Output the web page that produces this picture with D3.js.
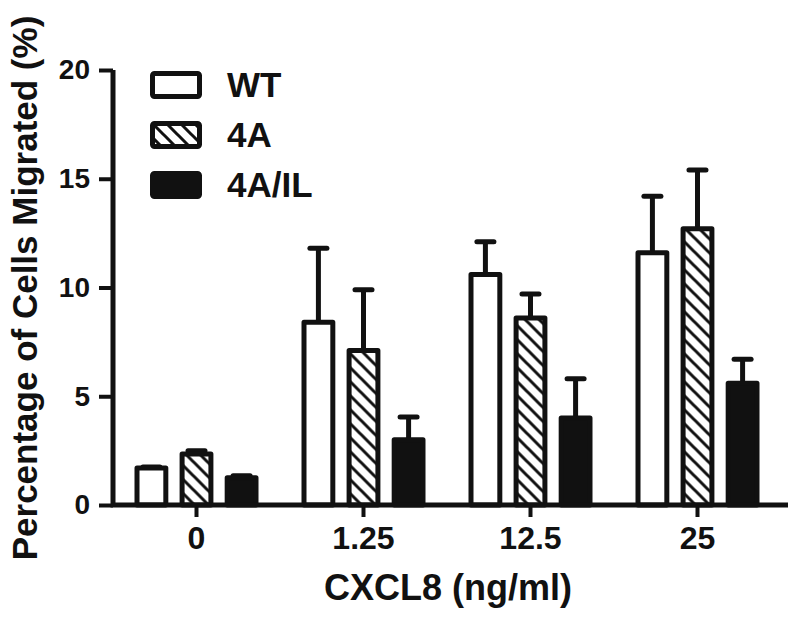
<!DOCTYPE html>
<html>
<head>
<meta charset="utf-8">
<script src="https://cdn.jsdelivr.net/npm/d3@7"></script>
<style>
  body { margin: 0; background: #fff; }
  text { font-family: "Liberation Sans", Arial, sans-serif; font-weight: bold; fill: #111; }
</style>
</head>
<body>
<div id="viz"></div>
<script>
var doses = ["0", "1.25", "12.5", "25"];
var groups = ["WT", "4A", "4A/IL"];
var wtMean = [1.7, 8.4, 10.6, 11.6];
var wtErr = [0.05, 3.4, 1.5, 2.6];
var fourAMean = [2.35, 7.1, 8.6, 12.7];
var fourAErr = [0.15, 2.8, 1.1, 2.7];
var ilMean = [1.25, 3.0, 4.0, 5.6];
var ilErr = [0.1, 1.05, 1.8, 1.1];
var yTicks = [0, 5, 10, 15, 20];

var width = 800;
var height = 617;
var ink = "#111";

var svg = d3.select("#viz")
    .append("svg")
    .attr("width", width)
    .attr("height", height);

svg.append("rect")
    .attr("width", width)
    .attr("height", height)
    .attr("fill", "#fff");

// diagonal hatch for 4A
var defs = svg.append("defs");
var pat = defs.append("pattern")
    .attr("id", "hatch")
    .attr("patternUnits", "userSpaceOnUse")
    .attr("width", 14)
    .attr("height", 14);
pat.append("rect").attr("width", 14).attr("height", 14).attr("fill", "#fff");
pat.append("path")
    .attr("d", "M-2,-2 L16,16 M-2,12 L2,16 M12,-2 L16,2")
    .attr("stroke", ink)
    .attr("stroke-width", 3);

var fills = { "WT": "#fff", "4A": "url(#hatch)", "4A/IL": ink };

var rows = [];
doses.forEach(function(d, i) {
  rows.push({ dose: d, group: "WT", mean: wtMean[i], err: wtErr[i] });
  rows.push({ dose: d, group: "4A", mean: fourAMean[i], err: fourAErr[i] });
  rows.push({ dose: d, group: "4A/IL", mean: ilMean[i], err: ilErr[i] });
});

var x = d3.scaleBand()
    .domain(doses)
    .range([113, 781]);

var x1 = d3.scaleBand()
    .domain(groups)
    .range([-62, 62])
    .paddingInner(0.25);

var y = d3.scaleLinear()
    .domain([0, 20])
    .range([505, 70]);

var bar = svg.selectAll("g.bar")
    .data(rows)
    .enter()
    .append("g")
    .attr("class", "bar")
    .attr("transform", function(d) { return "translate(" + (x(d.dose) + x.bandwidth() / 2 + x1(d.group)) + ",0)"; });

// error bars (upper only)
bar.append("line")
    .attr("x1", x1.bandwidth() / 2)
    .attr("x2", x1.bandwidth() / 2)
    .attr("y1", function(d) { return y(d.mean); })
    .attr("y2", function(d) { return y(d.mean + d.err); })
    .attr("stroke", ink)
    .attr("stroke-width", 5);

bar.append("line")
    .attr("x1", x1.bandwidth() / 2 - 8.5)
    .attr("x2", x1.bandwidth() / 2 + 8.5)
    .attr("y1", function(d) { return y(d.mean + d.err); })
    .attr("y2", function(d) { return y(d.mean + d.err); })
    .attr("stroke", ink)
    .attr("stroke-width", 5)
    .attr("stroke-linecap", "round");

bar.append("rect")
    .attr("x", 2.5)
    .attr("width", x1.bandwidth() - 5)
    .attr("y", function(d) { return y(d.mean); })
    .attr("height", function(d) { return y(0) - y(d.mean); })
    .attr("fill", function(d) { return fills[d.group]; })
    .attr("stroke", ink)
    .attr("stroke-width", 5)
    .attr("stroke-linejoin", "round");

// axes
var yAxis = svg.append("g")
    .attr("transform", "translate(113,0)")
    .call(d3.axisLeft(y).tickValues(yTicks).tickSize(14).tickSizeOuter(0).tickPadding(9));
yAxis.select(".domain").remove();
yAxis.selectAll(".tick line").attr("stroke", ink).attr("stroke-width", 4);
yAxis.selectAll(".tick text").style("font-size", "28px").attr("fill", ink);

var xAxis = svg.append("g")
    .attr("transform", "translate(0,505)")
    .call(d3.axisBottom(x).tickSize(12).tickSizeOuter(0).tickPadding(9));
xAxis.select(".domain").remove();
xAxis.selectAll(".tick line").attr("stroke", ink).attr("stroke-width", 4);
xAxis.selectAll(".tick text").style("font-size", "32px").attr("fill", ink);

svg.append("path")
    .attr("d", "M113,70 L113,505 L788,505")
    .attr("fill", "none")
    .attr("stroke", ink)
    .attr("stroke-width", 5)
    .attr("stroke-linejoin", "miter");

// axis titles
svg.append("text")
    .attr("transform", "translate(37,288) rotate(-90)")
    .attr("text-anchor", "middle")
    .style("font-size", "35px")
    .text("Percentage of Cells Migrated (%)");

svg.append("text")
    .attr("x", 448)
    .attr("y", 600)
    .attr("text-anchor", "middle")
    .style("font-size", "36px")
    .text("CXCL8 (ng/ml)");

// legend
var legend = svg.selectAll("g.legend")
    .data(groups)
    .enter()
    .append("g")
    .attr("class", "legend")
    .attr("transform", function(d, i) { return "translate(150," + (71 + i * 50) + ")"; });

legend.append("rect")
    .attr("x", 2.5)
    .attr("y", 2.5)
    .attr("width", 47)
    .attr("height", 23)
    .attr("rx", 2)
    .attr("fill", function(d) { return fills[d]; })
    .attr("stroke", ink)
    .attr("stroke-width", 5);

legend.append("text")
    .attr("x", 77)
    .attr("y", 26)
    .style("font-size", "35px")
    .text(function(d) { return d; });
</script>
</body>
</html>
